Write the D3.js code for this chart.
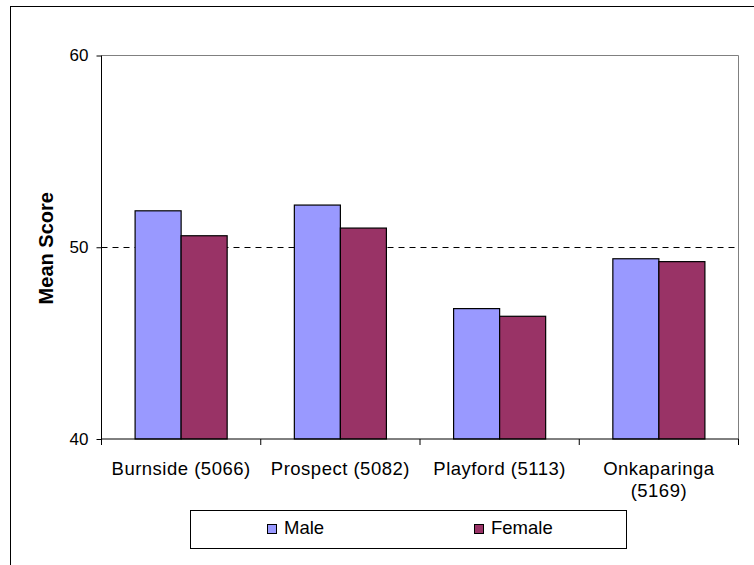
<!DOCTYPE html>
<html>
<head>
<meta charset="utf-8">
<script src="https://cdn.jsdelivr.net/npm/d3@7/dist/d3.min.js"></script>
<style>
  html, body { margin: 0; padding: 0; background: #fff; }
  svg { display: block; font-family: "Liberation Sans", Arial, sans-serif; }
</style>
</head>
<body>
<div id="chart"></div>
<script>
// Mean scores by council area and gender
const categories = ["Burnside (5066)", "Prospect (5082)", "Playford (5113)", "Onkaparinga (5169)"];
const seriesNames = ["Male", "Female"];
const maleValues = [51.9, 52.2, 46.8, 49.4];
const femaleValues = [50.6, 51.0, 46.4, 49.25];
const yTicks = [40, 50, 60];
const referenceValue = 50;

const colors = { Male: "#9999FF", Female: "#993366" };

const W = 754, H = 565;
const plot = { left: 101.5, right: 738.5, top: 55.5, bottom: 439 };

const svg = d3.select("#chart").append("svg")
  .attr("width", W).attr("height", H);

svg.append("rect").attr("width", W).attr("height", H).attr("fill", "#fff");

// outer chart frame (continues past the right and bottom edges)
svg.append("rect")
  .attr("x", 10.5).attr("y", 6.5)
  .attr("width", W + 20).attr("height", H + 20)
  .attr("fill", "none").attr("stroke", "#000").attr("stroke-width", 1);

const x0 = d3.scaleBand().domain(categories).range([plot.left, plot.right]).padding(0);
const x1 = d3.scaleBand().domain(seriesNames).range([0, x0.bandwidth()])
  .paddingInner(0).paddingOuter(0.73);
const y = d3.scaleLinear().domain([40, 60]).range([plot.bottom, plot.top]);

const rows = categories.map((c, i) => ({ category: c, Male: maleValues[i], Female: femaleValues[i] }));

// plot area border (top and right)
svg.append("path")
  .attr("d", `M${plot.left},${plot.top}H${plot.right}V${plot.bottom}`)
  .attr("fill", "none").attr("stroke", "#808080").attr("stroke-width", 1);

// reference line at 50
svg.append("line")
  .attr("x1", plot.left).attr("x2", plot.right)
  .attr("y1", Math.round(y(referenceValue)) + 0.5).attr("y2", Math.round(y(referenceValue)) + 0.5)
  .attr("stroke", "#000").attr("stroke-width", 1).attr("stroke-dasharray", "6,5");

// bars
const groups = svg.append("g").selectAll("g").data(rows).join("g")
  .attr("transform", d => `translate(${x0(d.category)},0)`);

groups.selectAll("rect")
  .data(d => seriesNames.map(s => ({ key: s, value: d[s] })))
  .join("rect")
  .attr("x", d => x1(d.key))
  .attr("y", d => y(d.value))
  .attr("width", x1.bandwidth())
  .attr("height", d => y(40) - y(d.value))
  .attr("fill", d => colors[d.key])
  .attr("stroke", "#000").attr("stroke-width", 1.2);

// y axis
const yAxis = svg.append("g")
  .attr("transform", `translate(${plot.left},0)`)
  .call(d3.axisLeft(y).tickValues(yTicks).tickSize(5).tickPadding(8).tickFormat(d3.format("d")));
yAxis.select(".domain").attr("stroke", "#000").attr("d", `M0,${plot.top}V${plot.bottom}`);
yAxis.selectAll(".tick line").attr("stroke", "#000");
yAxis.selectAll(".tick text").attr("font-size", 17).attr("fill", "#000")
  .attr("font-family", "Liberation Sans, Arial, sans-serif");

// x axis with tick marks at category boundaries
const xAxisG = svg.append("g").attr("transform", `translate(0,${plot.bottom})`);
xAxisG.append("line")
  .attr("x1", plot.left).attr("x2", plot.right).attr("y1", 0).attr("y2", 0)
  .attr("stroke", "#000").attr("stroke-width", 1);
const boundaries = categories.map(c => x0(c)).concat([x0.range()[1]]);
xAxisG.selectAll("line.bound").data(boundaries).join("line")
  .attr("class", "bound")
  .attr("x1", d => d).attr("x2", d => d).attr("y1", 0).attr("y2", 6)
  .attr("stroke", "#000");

// category labels, wrapped when wider than the band
const labelFont = 18.5;
const labels = xAxisG.selectAll("text.cat").data(categories).join("text")
  .attr("class", "cat")
  .attr("text-anchor", "middle")
  .attr("font-size", labelFont)
  .attr("letter-spacing", 0.5)
  .attr("fill", "#000")
  .attr("x", d => x0(d) + x0.bandwidth() / 2)
  .attr("y", 36);
labels.each(function(d) {
  const t = d3.select(this);
  t.text(d);
  if (this.getComputedTextLength() > x0.bandwidth() - 4) {
    const words = d.split(" ");
    const last = words.pop();
    t.text(null);
    const cx = x0(d) + x0.bandwidth() / 2;
    t.append("tspan").attr("x", cx).attr("dy", 0).text(words.join(" "));
    t.append("tspan").attr("x", cx).attr("dy", 22).text(last);
  }
});

// y axis title
svg.append("text")
  .attr("transform", `translate(53,${(plot.top + plot.bottom) / 2 + 1}) rotate(-90)`)
  .attr("text-anchor", "middle")
  .attr("font-size", 20).attr("font-weight", "bold").attr("fill", "#000")
  .text("Mean Score");

// legend
const legend = svg.append("g");
legend.append("rect")
  .attr("x", 190.5).attr("y", 510.5).attr("width", 436).attr("height", 38)
  .attr("fill", "#fff").attr("stroke", "#000").attr("stroke-width", 1);
const legendX = d3.scaleOrdinal().domain(seriesNames).range([267, 474]);
const items = legend.selectAll("g.item").data(seriesNames).join("g")
  .attr("class", "item")
  .attr("transform", d => `translate(${legendX(d)},0)`);
items.append("rect")
  .attr("x", 0.5).attr("y", 524.5).attr("width", 9).attr("height", 9)
  .attr("fill", d => colors[d]).attr("stroke", "#000").attr("stroke-width", 1);
items.append("text")
  .attr("x", 17).attr("y", 533.5)
  .attr("font-size", labelFont).attr("fill", "#000")
  .text(d => d);
</script>
</body>
</html>
